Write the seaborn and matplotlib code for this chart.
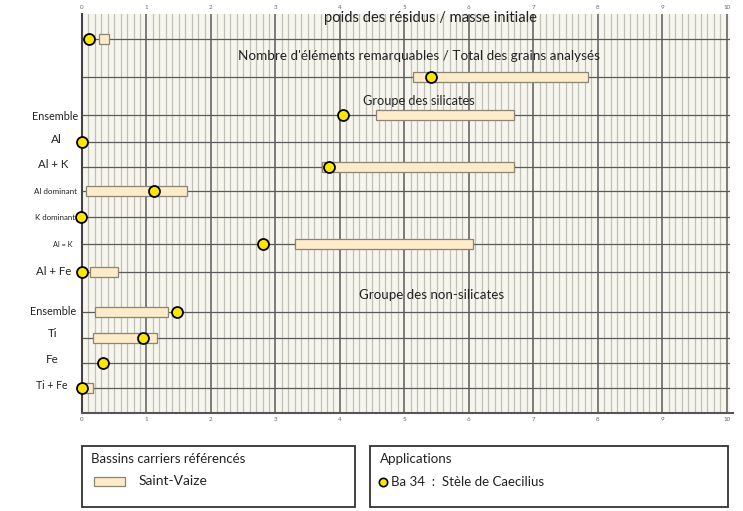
import numpy as np
import pandas as pd
import seaborn as sns
import matplotlib.pyplot as plt
from matplotlib.patches import Rectangle
from matplotlib.lines import Line2D
from matplotlib.transforms import blended_transform_factory

# rows of the chart (top to bottom)
row_labels = ["", "", "Ensemble", "Al", "Al + K", "Al dominant", "K dominant",
              "Al = K", "Al + Fe", "Ensemble", "Ti", "Fe", "Ti + Fe"]
# Saint-Vaize reference range (low / high)
sv_low = [0.26, 5.13, 4.56, np.nan, 3.72, 0.06, np.nan, 3.31, 0.12, 0.20, 0.17, np.nan, 0.02]
sv_high = [0.42, 7.84, 6.70, np.nan, 6.70, 1.63, np.nan, 6.06, 0.56, 1.34, 1.17, np.nan, 0.17]
# Ba 34 : Stele de Caecilius
ba34 = [0.11, 5.41, 4.05, 0.0, 3.83, 1.12, -0.02, 2.80, 0.0, 1.47, 0.95, 0.32, 0.0]

headers = ["poids des résidus / masse initiale",
           "Nombre d'éléments remarquables / Total des grains analysés",
           "Groupe des silicates",
           "Groupe des non-silicates"]

# layout (vertical slot of each row / header, axis units from the top)
row_y = [1.25, 3.15, 5.05, 6.4, 7.65, 8.85, 10.15, 11.5, 12.9, 14.9, 16.2, 17.45, 18.7]
label_dy = [0, 0, 0.1, -0.15, -0.15, 0, 0, 0, -0.05, -0.05, -0.25, -0.2, -0.15]
label_x = [55, 55, 55, 56, 53, 55, 55, 63, 54, 53, 53, 52, 52]
label_sizes = [7.5, 7.5, 7.8, 8.6, 8.2, 5.8, 5.7, 5.3, 8.2, 7.8, 8.4, 8.4, 7.6]
header_xy = [(5.40, 0.2), (5.22, 2.1), (5.22, 4.35), (5.42, 14.05)]
header_sizes = [10.6, 9.7, 9.2, 9.6]

sns.set_style("white")
plt.rcParams['font.family'] = ['Lato', 'DejaVu Sans']

W, H = 743, 511
fig = plt.figure(figsize=(W / 100, H / 100), dpi=100)
ax = fig.add_axes([82 / W, 1 - 413 / H, 648 / W, 399 / H])
ax.set_facecolor("#f6f6ef")

# grid
for v in np.arange(0.1, 10.05, 0.1):
    if abs(v - round(v)) < 1e-6:
        ax.axvline(v, color="#5a5a5a", lw=1.1, zorder=1)
    else:
        ax.axvline(v, color="#c0c0b7", lw=0.9, zorder=1)
for y in row_y:
    ax.axhline(y, color="#5a5a5a", lw=0.9, zorder=1)

# reference ranges
df = pd.DataFrame({"label": row_labels, "y": row_y, "low": sv_low,
                   "high": sv_high, "ba34": ba34})
rng = df.dropna(subset=["low"])
ax.barh(rng["y"], rng["high"] - rng["low"], left=rng["low"], height=0.5,
        color="#fdecc9", edgecolor="#8c8374", lw=0.9, zorder=3)

# sample points
sns.scatterplot(data=df, x="ba34", y="y", ax=ax, s=62, color="#ffe600",
                edgecolor="black", linewidth=1.3, zorder=4, legend=False,
                clip_on=False)

for txt, (hx, hy), fs in zip(headers, header_xy, header_sizes):
    ax.text(hx, hy, txt, ha="center", va="center", fontsize=fs,
            color="#222222", zorder=5)

# row labels
trans = blended_transform_factory(fig.transFigure, ax.transData)
for lab, y, dy, lx, fs in zip(row_labels, row_y, label_dy, label_x, label_sizes):
    fig.text(lx / W, y + dy, lab, transform=trans, ha="center", va="center",
             fontsize=fs, color="#222222")

ax.set_xlim(0, 10.05)
ax.set_ylim(19.95, 0)
ax.set_xticks(range(11))
ax.tick_params(axis="x", top=True, labeltop=True, length=0, labelsize=4.5,
               labelcolor="#666666", pad=3)
ax.set_yticks([])
ax.set_xlabel("")
ax.set_ylabel("")
for s in ["top", "right"]:
    ax.spines[s].set_visible(False)
ax.spines["left"].set_color("#444444")
ax.spines["left"].set_linewidth(1.5)
ax.spines["bottom"].set_color("#555555")
ax.spines["bottom"].set_linewidth(1.5)
ax.spines["bottom"].set_bounds(0, 10.1)


# legend boxes
def px(x, y):
    return x / W, 1 - y / H


for x0, x1 in [(82, 355), (370, 728)]:
    fig.patches.append(Rectangle(px(x0, 507), (x1 - x0) / W, 61 / H,
                                 transform=fig.transFigure, fill=False,
                                 edgecolor="#333333", lw=1.3))
fig.text(*px(91, 459), "Bassins carriers référencés", fontsize=9.5,
         va="center", color="#222222")
fig.patches.append(Rectangle(px(94, 486), 31 / W, 9 / H, transform=fig.transFigure,
                             facecolor="#fdecc9", edgecolor="#8c8374", lw=0.9))
fig.text(*px(139, 481), "Saint-Vaize", fontsize=10, va="center", color="#222222")
fig.text(*px(380, 459), "Applications", fontsize=9.6, va="center", color="#222222")
fig.lines.append(Line2D([383 / W], [1 - 482 / H], transform=fig.transFigure,
                        marker="o", markersize=6, markerfacecolor="#ffe600",
                        markeredgecolor="black", markeredgewidth=1.2))
fig.text(*px(391, 482), "Ba 34  :  Stèle de Caecilius", fontsize=9.5,
         va="center", color="#222222")

fig.savefig("out.png", dpi=100)
